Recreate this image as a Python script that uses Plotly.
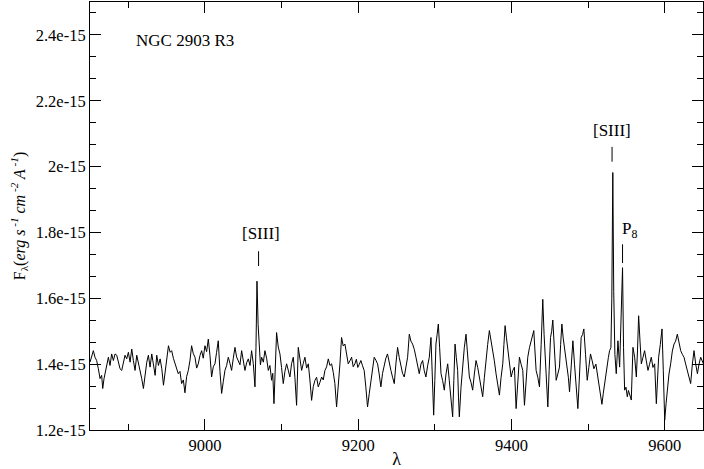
import plotly.graph_objects as go

# spectrum (wavelength in Angstrom, flux in 1e-15 erg/s/cm2/A)
wavelength = [
    8850.0, 8852.2, 8854.4, 8856.5, 8858.7, 8860.9, 8863.1, 8865.2, 8866.6, 8868.3,
    8870.0, 8871.8, 8874.0, 8876.1, 8878.3, 8880.5, 8882.7, 8884.9, 8887.0, 8889.2,
    8891.4, 8893.6, 8895.7, 8897.9, 8900.1, 8902.3, 8904.5, 8906.6, 8908.8, 8911.0,
    8913.2, 8915.4, 8917.5, 8919.7, 8921.9, 8924.1, 8926.2, 8928.4, 8930.6, 8932.8,
    8935.0, 8937.1, 8939.3, 8941.5, 8943.7, 8945.9, 8948.0, 8950.2, 8952.4, 8954.6,
    8956.6, 8958.8, 8960.9, 8963.0, 8965.2, 8967.4, 8969.6, 8971.8, 8973.9, 8976.1,
    8978.3, 8980.5, 8982.6, 8984.8, 8987.0, 8989.2, 8991.3, 8993.5, 8995.7, 8997.8,
    9000.0, 9002.2, 9004.4, 9006.6, 9008.7, 9010.9, 9013.1, 9015.2, 9017.4, 9019.6,
    9021.8, 9024.0, 9026.1, 9028.3, 9030.5, 9032.7, 9034.8, 9037.0, 9039.2, 9041.3,
    9043.5, 9045.7, 9047.9, 9050.0, 9052.2, 9054.4, 9056.6, 9058.8, 9060.9, 9063.1,
    9065.3, 9066.6, 9067.9, 9069.4, 9070.9, 9072.4, 9074.0, 9076.2, 9078.3, 9080.5,
    9082.7, 9084.8, 9087.0, 9088.5, 9090.1, 9091.8, 9093.5, 9095.7, 9097.9, 9100.0,
    9102.2, 9104.4, 9106.6, 9108.7, 9110.9, 9113.1, 9115.3, 9117.4, 9119.6, 9121.8,
    9124.0, 9126.2, 9128.3, 9130.5, 9132.7, 9134.9, 9137.0, 9139.2, 9141.4, 9143.6,
    9145.7, 9147.9, 9150.1, 9152.3, 9154.4, 9156.6, 9158.8, 9161.0, 9163.1, 9165.3,
    9167.5, 9169.6, 9171.8, 9174.0, 9176.2, 9178.3, 9180.5, 9182.7, 9184.8, 9187.0,
    9189.2, 9191.4, 9193.5, 9195.7, 9197.6, 9199.5, 9201.5, 9203.5, 9205.7, 9207.8,
    9210.0, 9212.2, 9214.4, 9216.6, 9218.7, 9220.9, 9223.1, 9225.3, 9227.4, 9229.6,
    9231.8, 9234.0, 9236.1, 9238.3, 9240.5, 9242.7, 9244.9, 9247.1, 9249.2, 9251.4,
    9253.6, 9255.8, 9257.9, 9260.1, 9262.3, 9264.5, 9266.7, 9268.8, 9271.0, 9273.2,
    9275.4, 9277.5, 9279.7, 9281.9, 9284.1, 9286.2, 9288.4, 9290.6, 9292.8, 9295.0,
    9296.8, 9298.5, 9300.0, 9301.5, 9303.0, 9304.6, 9306.3, 9308.1, 9310.2, 9312.4,
    9314.6, 9316.8, 9318.9, 9321.1, 9323.3, 9324.8, 9326.4, 9328.1, 9329.8, 9330.9,
    9332.0, 9334.2, 9336.4, 9338.5, 9340.7, 9342.9, 9345.1, 9347.2, 9349.4, 9351.6,
    9353.8, 9356.0, 9358.2, 9360.3, 9362.5, 9364.7, 9366.9, 9369.0, 9371.2, 9373.4,
    9375.6, 9377.7, 9379.9, 9382.1, 9384.3, 9386.5, 9388.7, 9390.2, 9391.7, 9393.5,
    9395.2, 9397.4, 9399.6, 9401.7, 9403.9, 9406.1, 9408.2, 9410.4, 9412.6, 9414.8,
    9417.0, 9419.1, 9421.3, 9423.5, 9425.7, 9427.4, 9429.2, 9430.7, 9432.2, 9434.4,
    9436.6, 9438.8, 9440.9, 9442.6, 9444.4, 9445.9, 9447.5, 9449.2, 9451.0, 9452.5,
    9454.0, 9456.2, 9458.4, 9460.5, 9462.7, 9464.2, 9465.8, 9467.5, 9469.3, 9471.0,
    9472.7, 9474.3, 9475.8, 9478.0, 9480.2, 9482.3, 9484.5, 9486.7, 9488.9, 9491.0,
    9492.8, 9494.5, 9496.7, 9498.9, 9501.0, 9503.2, 9505.4, 9507.6, 9510.2, 9512.8,
    9515.4, 9518.1, 9519.8, 9521.5, 9523.2, 9525.0, 9526.5, 9528.1, 9529.8, 9531.0,
    9532.3, 9533.5, 9535.0, 9536.8, 9539.0, 9541.2, 9543.5, 9545.0, 9546.3, 9547.7,
    9549.5, 9551.2, 9552.7, 9554.2, 9555.3, 9556.4, 9558.6, 9560.8, 9563.0, 9564.5,
    9566.0, 9567.8, 9569.5, 9571.6, 9573.8, 9576.0, 9578.2, 9580.3, 9582.5, 9584.7,
    9586.9, 9589.1, 9590.6, 9592.1, 9594.3, 9596.5, 9598.2, 9600.0, 9601.8, 9603.5,
    9605.6, 9607.8, 9610.0, 9612.2, 9614.3, 9616.5, 9618.7, 9620.9, 9623.0, 9625.2,
    9627.4, 9629.6, 9631.7, 9633.9, 9636.1, 9638.3, 9640.5, 9642.7, 9644.8, 9647.0,
    9650.5,
]
flux = [
    1.406, 1.427, 1.441, 1.421, 1.411, 1.386, 1.356, 1.366, 1.326, 1.356,
    1.376, 1.401, 1.421, 1.396, 1.431, 1.411, 1.431, 1.427, 1.406, 1.386,
    1.381, 1.406, 1.427, 1.416, 1.436, 1.406, 1.446, 1.411, 1.381, 1.427,
    1.406, 1.376, 1.356, 1.326, 1.376, 1.406, 1.427, 1.391, 1.431, 1.401,
    1.366, 1.427, 1.396, 1.416, 1.386, 1.336, 1.376, 1.427, 1.456, 1.436,
    1.441, 1.418, 1.401, 1.392, 1.371, 1.378, 1.341, 1.352, 1.313, 1.362,
    1.381, 1.412, 1.456, 1.432, 1.421, 1.388, 1.401, 1.426, 1.441, 1.418,
    1.456, 1.438, 1.476, 1.426, 1.361, 1.392, 1.401, 1.436, 1.471, 1.378,
    1.311, 1.348, 1.381, 1.396, 1.421, 1.402, 1.381, 1.418, 1.451, 1.422,
    1.411, 1.398, 1.441, 1.416, 1.381, 1.404, 1.416, 1.396, 1.441, 1.402,
    1.331, 1.450, 1.652, 1.520, 1.451, 1.398, 1.421, 1.406, 1.441, 1.418,
    1.381, 1.396, 1.351, 1.372, 1.280, 1.390, 1.496, 1.452, 1.431, 1.390,
    1.341, 1.378, 1.401, 1.382, 1.361, 1.402, 1.421, 1.360, 1.275, 1.451,
    1.410, 1.381, 1.402, 1.421, 1.388, 1.401, 1.352, 1.290, 1.332, 1.351,
    1.360, 1.331, 1.345, 1.361, 1.352, 1.381, 1.392, 1.416, 1.396, 1.401,
    1.375, 1.341, 1.270, 1.330, 1.401, 1.481, 1.455, 1.461, 1.430, 1.401,
    1.410, 1.421, 1.392, 1.401, 1.415, 1.390, 1.400, 1.411, 1.395, 1.381,
    1.330, 1.270, 1.310, 1.351, 1.392, 1.421, 1.412, 1.401, 1.370, 1.331,
    1.372, 1.401, 1.418, 1.431, 1.400, 1.381, 1.360, 1.341, 1.400, 1.451,
    1.420, 1.391, 1.372, 1.361, 1.395, 1.421, 1.491, 1.470, 1.461, 1.445,
    1.421, 1.392, 1.371, 1.400, 1.411, 1.380, 1.361, 1.395, 1.421, 1.481,
    1.380, 1.245, 1.350, 1.461, 1.490, 1.522, 1.450, 1.371, 1.350, 1.321,
    1.370, 1.401, 1.350, 1.301, 1.240, 1.350, 1.461, 1.420, 1.381, 1.300,
    1.240, 1.330, 1.401, 1.450, 1.491, 1.420, 1.361, 1.345, 1.321, 1.370,
    1.411, 1.390, 1.361, 1.330, 1.301, 1.360, 1.421, 1.460, 1.502, 1.470,
    1.451, 1.410, 1.371, 1.340, 1.306, 1.360, 1.401, 1.460, 1.517, 1.480,
    1.441, 1.400, 1.361, 1.380, 1.391, 1.265, 1.340, 1.421, 1.400, 1.381,
    1.275, 1.350, 1.421, 1.450, 1.471, 1.480, 1.502, 1.440, 1.381, 1.360,
    1.331, 1.460, 1.597, 1.490, 1.391, 1.330, 1.270, 1.380, 1.481, 1.500,
    1.534, 1.440, 1.351, 1.370, 1.391, 1.460, 1.522, 1.480, 1.451, 1.420,
    1.401, 1.360, 1.316, 1.400, 1.471, 1.400, 1.321, 1.265, 1.370, 1.481,
    1.490, 1.507, 1.430, 1.351, 1.390, 1.431, 1.410, 1.386, 1.400, 1.361,
    1.320, 1.278, 1.310, 1.341, 1.370, 1.401, 1.420, 1.441, 1.450, 1.600,
    1.982, 1.620, 1.430, 1.371, 1.471, 1.391, 1.560, 1.693, 1.450, 1.321,
    1.330, 1.301, 1.320, 1.311, 1.300, 1.291, 1.451, 1.421, 1.361, 1.440,
    1.547, 1.470, 1.401, 1.420, 1.441, 1.410, 1.381, 1.400, 1.421, 1.390,
    1.401, 1.280, 1.360, 1.421, 1.460, 1.507, 1.380, 1.230, 1.280, 1.321,
    1.370, 1.401, 1.440, 1.461, 1.470, 1.491, 1.460, 1.441, 1.430, 1.421,
    1.400, 1.381, 1.360, 1.341, 1.400, 1.441, 1.400, 1.371, 1.400, 1.421,
    1.401,
]

ytick_vals = [1.2, 1.4, 1.6, 1.8, 2.0, 2.2, 2.4]
ytick_text = ["1.2e-15", "1.4e-15", "1.6e-15", "1.8e-15", "2e-15", "2.2e-15", "2.4e-15"]
xtick_vals = [9000, 9200, 9400, 9600]

font = "Liberation Serif, Times New Roman, serif"

fig = go.Figure(go.Scatter(x=wavelength, y=flux, mode="lines",
                           line=dict(color="black", width=1)))

# line labels with short marker dashes
labels = [
    (9072.8, 1.797, "[SIII]", 9070.0, 1.743, 1.698, "center"),
    (9531.6, 2.111, "[SIII]", 9531.3, 2.060, 2.015, "center"),
    (9541.5, 1.809, "P<sub>8</sub>", 9545.0, 1.764, 1.707, "left"),
]
for lx, ly, txt, tx, y0, y1, anchor in labels:
    fig.add_annotation(x=lx, y=ly, text=txt, showarrow=False, xanchor=anchor,
                       font=dict(family=font, size=17, color="black"))
    fig.add_shape(type="line", x0=tx, x1=tx, y0=y0, y1=y1,
                  line=dict(color="black", width=1))

fig.add_annotation(x=8908, y=2.383, text="NGC 2903 R3", showarrow=False,
                   xanchor="left", font=dict(family=font, size=17, color="black"))

fig.update_layout(
    width=704, height=469,
    margin=dict(l=90, r=1, t=2, b=39),
    paper_bgcolor="white", plot_bgcolor="white",
    showlegend=False,
    font=dict(family=font, size=16.5, color="black"),
)
fig.update_xaxes(
    range=[8850, 9650], tickvals=xtick_vals, ticks="inside", ticklen=11,
    showgrid=False, zeroline=False, showline=True, linecolor="black",
    linewidth=1, mirror="ticks", tickcolor="black", automargin=False,
    minor=dict(dtick=100, tick0=8900, ticks="inside", ticklen=6, tickcolor="black"),
    title=dict(text="λ", standoff=2, font=dict(size=18)),
)
fig.update_yaxes(
    range=[1.2, 2.5], tickvals=ytick_vals, ticktext=ytick_text, ticks="inside",
    ticklen=11, showgrid=False, zeroline=False, showline=True, linecolor="black",
    linewidth=1, mirror="ticks", tickcolor="black", automargin=False,
    minor=dict(dtick=0.2 / 3, tick0=1.2, ticks="inside", ticklen=6, tickcolor="black"),
    title=dict(text="F<sub>λ</sub>(<i>erg s<sup> -1</sup> cm<sup> -2</sup> A<sup> -1</sup></i>)",
               standoff=6, font=dict(size=16)),
)

fig.write_html("out.html", config={"displayModeBar": False},
               post_script="document.body.style.margin='0';")
